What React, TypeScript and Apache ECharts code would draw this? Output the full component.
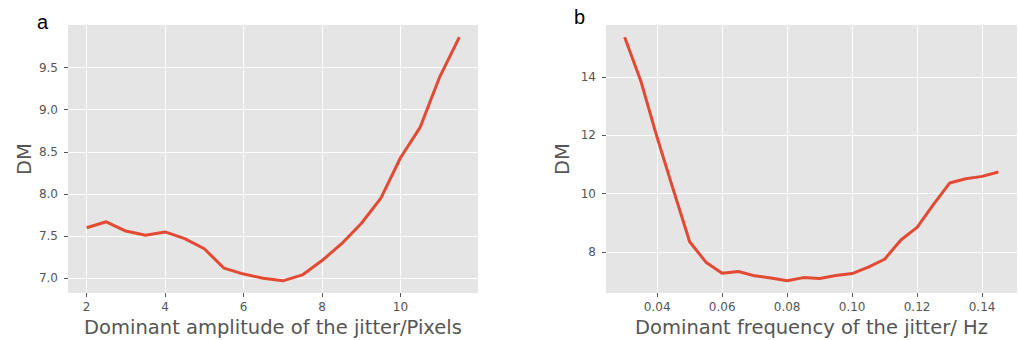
import React, { useEffect, useRef } from "react";
import * as echarts from "echarts";

const ampX = [2, 2.5, 3, 3.5, 4, 4.5, 5, 5.5, 6, 6.5, 7, 7.5, 8, 8.5, 9, 9.5, 10, 10.5, 11, 11.5];
const ampDM = [7.6, 7.67, 7.56, 7.51, 7.55, 7.47, 7.35, 7.12, 7.05, 7.0, 6.97, 7.04, 7.21, 7.41, 7.65, 7.95, 8.43, 8.79, 9.39, 9.86];

const freqX = [0.03, 0.035, 0.04, 0.045, 0.05, 0.055, 0.06, 0.065, 0.07, 0.075, 0.08, 0.085, 0.09, 0.095, 0.1, 0.105, 0.11, 0.115, 0.12, 0.125, 0.13, 0.135, 0.14, 0.145];
const freqDM = [15.36, 13.85, 11.92, 10.12, 8.35, 7.65, 7.27, 7.33, 7.18, 7.11, 7.01, 7.12, 7.09, 7.19, 7.26, 7.48, 7.75, 8.41, 8.84, 9.62, 10.36, 10.51, 10.59, 10.74];

const ampXTicks = [2, 4, 6, 8, 10];
const ampYTicks = [7.0, 7.5, 8.0, 8.5, 9.0, 9.5];
const freqXTicks = [0.04, 0.06, 0.08, 0.1, 0.12, 0.14];
const freqYTicks = [8, 10, 12, 14];

const ampXTitle = "Dominant amplitude of the jitter/Pixels";
const freqXTitle = "Dominant frequency of the jitter/ Hz";
const yTitle = "DM";
const panelLabels = ["a", "b"];

function padded(arr: number[]) {
  const mn = Math.min(...arr);
  const mx = Math.max(...arr);
  const p = (mx - mn) * 0.05;
  return [mn - p, mx + p];
}

const FONT = "DejaVu Sans";
const TXT = "#555555";

function xAxisDef(idx: number, ext: number[], ticks: number[], digits: number, name: string) {
  return {
    type: "value",
    gridIndex: idx,
    min: ext[0],
    max: ext[1],
    axisLine: { show: false },
    axisTick: { show: true, length: 4, lineStyle: { color: TXT, width: 1 }, customValues: ticks },
    axisLabel: {
      color: TXT,
      fontFamily: FONT,
      fontSize: 12,
      margin: 8,
      customValues: ticks,
      formatter: (v: number) => v.toFixed(digits),
    },
    splitLine: { show: false },
    name,
    nameLocation: "middle",
    nameGap: 23,
    nameTextStyle: { color: TXT, fontFamily: FONT, fontSize: 19.5 },
  };
}

function yAxisDef(idx: number, ext: number[], ticks: number[], digits: number) {
  return {
    type: "value",
    gridIndex: idx,
    min: ext[0],
    max: ext[1],
    axisLine: { show: false },
    axisTick: { show: true, length: 4, lineStyle: { color: TXT, width: 1 }, customValues: ticks },
    axisLabel: {
      color: TXT,
      fontFamily: FONT,
      fontSize: 12,
      margin: 10,
      customValues: ticks,
      formatter: (v: number) => v.toFixed(digits),
    },
    splitLine: { show: false },
    name: yTitle,
    nameLocation: "middle",
    nameGap: 34,
    nameTextStyle: { color: TXT, fontFamily: FONT, fontSize: 19.5 },
  };
}

export default function App() {
  const ref = useRef<HTMLDivElement>(null);
  useEffect(() => {
    if (!ref.current) return;
    const chart = echarts.init(ref.current, undefined, { renderer: "svg" });
    const axExt = padded(ampX);
    const ayExt = padded(ampDM);
    const fxExt = padded(freqX);
    const fyExt = padded(freqDM);

    const gridLines = (xi: number, yi: number, xt: number[], yt: number[]) => [
      {
        type: "line",
        xAxisIndex: xi,
        yAxisIndex: yi,
        data: [],
        silent: true,
        markLine: {
          silent: true,
          symbol: "none",
          label: { show: false },
          lineStyle: { color: "#ffffff", width: 1, type: "solid" },
          data: [
            ...xt.map((v) => ({ xAxis: v })),
            ...yt.map((v) => ({ yAxis: v })),
          ],
        },
      },
    ];

    chart.setOption({
      animation: false,
      grid: [
        { left: 68, top: 25, width: 410, height: 268, show: true, backgroundColor: "#E5E5E5", borderWidth: 0, containLabel: false, outerBoundsMode: "none" },
        { left: 606, top: 25, width: 411, height: 268, show: true, backgroundColor: "#E5E5E5", borderWidth: 0, containLabel: false, outerBoundsMode: "none" },
      ],
      xAxis: [
        xAxisDef(0, axExt, ampXTicks, 0, ampXTitle),
        xAxisDef(1, fxExt, freqXTicks, 2, freqXTitle),
      ],
      yAxis: [yAxisDef(0, ayExt, ampYTicks, 1), yAxisDef(1, fyExt, freqYTicks, 0)],
      graphic: [
        { type: "text", left: 37, top: 12, style: { text: panelLabels[0], fontSize: 20, fontFamily: "Liberation Sans", fill: "#000" } },
        { type: "text", left: 574, top: 7, style: { text: panelLabels[1], fontSize: 20, fontFamily: "Liberation Sans", fill: "#000" } },
      ],
      series: [
        ...gridLines(0, 0, ampXTicks, ampYTicks),
        ...gridLines(1, 1, freqXTicks, freqYTicks),
        {
          type: "line",
          xAxisIndex: 0,
          yAxisIndex: 0,
          data: ampX.map((x, i) => [x, ampDM[i]]),
          showSymbol: false,
          lineStyle: { color: "#E24A33", width: 3 },
          z: 5,
        },
        {
          type: "line",
          xAxisIndex: 1,
          yAxisIndex: 1,
          data: freqX.map((x, i) => [x, freqDM[i]]),
          showSymbol: false,
          lineStyle: { color: "#E24A33", width: 3 },
          z: 5,
        },
      ],
    });
    return () => chart.dispose();
  }, []);
  return (
    <div
      ref={ref}
      style={{ position: "fixed", left: 0, top: 0, width: 1019, height: 340, background: "#fff" }}
    />
  );
}
